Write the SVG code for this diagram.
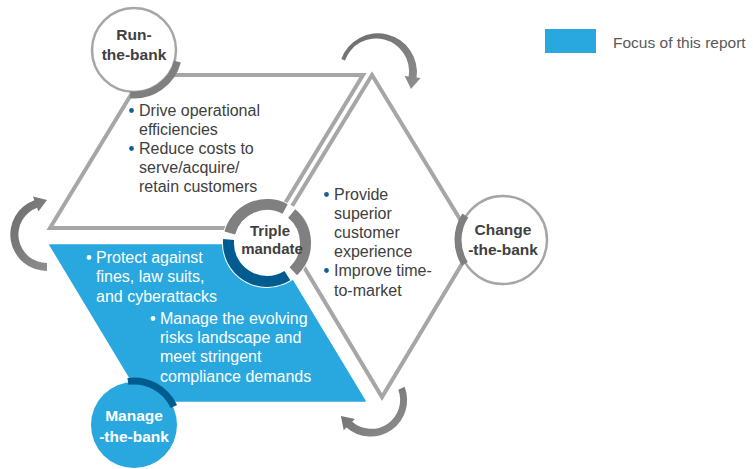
<svg xmlns="http://www.w3.org/2000/svg" width="753" height="469" viewBox="0 0 753 469">
<defs>
<style>
.ln{fill:none;stroke:#a6a6a6;stroke-width:4;stroke-linejoin:miter}
.thin{fill:#fff;stroke:#a6a6a6;stroke-width:2.5}
.thick{fill:none;stroke:#7f7f7f;stroke-width:7}
.t{font-family:"Liberation Sans",Arial,sans-serif;font-size:16px;fill:#404040}
.w{fill:#fff}
.h{font-family:"Liberation Sans",Arial,sans-serif;font-weight:bold;font-size:15.5px;fill:#404040;text-anchor:middle}
.dot{fill:#1b5e8e}
.wdot{fill:#fff}
.arr{fill:url(#ag)}
</style>
<linearGradient id="ag" x1="0" y1="0" x2="1" y2="1">
<stop offset="0" stop-color="#6b6b6b"/>
<stop offset="1" stop-color="#8f8f8f"/>
</linearGradient>
</defs>
<rect width="753" height="469" fill="#fff"/>

<g id="legend">
<rect x="545" y="29" width="51" height="24" fill="#29a8e0"/>
<text x="613" y="48" class="t" style="fill:#595959;font-size:15.5px">Focus of this report</text>
</g>

<g id="shapes">
<polygon id="manage-area" points="50,245 271,245 365,401 144,401" fill="#29a8e0" stroke="#29a8e0" stroke-width="1.5" stroke-linejoin="round"/>
<polygon id="run-area" class="ln" points="50,228 143,75 363,75 270,228"/>
<polygon id="change-area" class="ln" points="372,75 474.5,243 382,397 279.6,226.4"/>
</g>

<g id="connectors">
<path class="arr" d="M341.3,59 A39,39 0 0 1 416.6,77.6 L420.6,78.1 L411,88.9 L404.7,75.9 L408.7,76.5 A33,33 0 0 0 345,60.4 Z"/>
<path class="arr" d="M47,271 A36.5,36.5 0 0 1 34.35,200.2 L33,196.5 L47,199.9 L38.45,211.5 L37.1,207.75 A28.5,28.5 0 0 0 47,263 Z"/>
<path class="arr" d="M404.6,386.8 A36.5,36.5 0 0 1 346.5,427.5 L343.7,430.3 L340.9,416.1 L355,419 L352.2,421.8 A29,29 0 0 0 398.3,389.7 Z"/>
</g>

<g id="run-the-bank">
<circle class="thin" cx="134" cy="50" r="42"/>
<path class="thick" d="M177.5,61.6 A45,45 0 0 1 130.1,94.8"/>
<text class="h" x="134" y="40">Run-</text>
<text class="h" x="134" y="60">the-bank</text>
</g>

<g id="change-the-bank">
<circle class="thin" cx="503" cy="240" r="44"/>
<path class="thick" d="M464.8,263.8 A45,45 0 0 1 465.3,215.5"/>
<text class="h" x="503" y="235">Change</text>
<text class="h" x="503" y="255">-the-bank</text>
</g>

<g id="triple-mandate">
<circle cx="267" cy="243" r="45" fill="#fff"/>
<path d="M229.8,233 A38.5,38.5 0 0 1 285.1,209" fill="none" stroke="#808080" stroke-width="11"/>
<path d="M291.7,213.5 A38.5,38.5 0 0 1 293.3,271.2" fill="none" stroke="#808080" stroke-width="11"/>
<path d="M287.4,275.6 A38.5,38.5 0 0 1 228.6,239.6" fill="none" stroke="#005c8f" stroke-width="11"/>
<text class="h" x="270" y="236" style="font-size:15px">Triple</text>
<text class="h" x="272" y="254" style="font-size:15px">mandate</text>
</g>

<g id="manage-the-bank">
<circle cx="134" cy="425" r="43" fill="#29a8e0"/>
<path d="M127.9,381.4 A44,44 0 0 1 173.9,406.4" fill="none" stroke="#005c8f" stroke-width="7"/>
<text class="h" x="134" y="421" style="fill:#fff">Manage</text>
<text class="h" x="134" y="442" style="fill:#fff">-the-bank</text>
</g>

<g id="run-text">
<circle class="dot" cx="131.5" cy="110.5" r="2.4"/>
<text class="t" x="139" y="116">Drive operational</text>
<text class="t" x="139" y="135">efficiencies</text>
<circle class="dot" cx="131.5" cy="148.5" r="2.4"/>
<text class="t" x="139" y="154">Reduce costs to</text>
<text class="t" x="139" y="173">serve/acquire/</text>
<text class="t" x="139" y="192">retain customers</text>
</g>

<g id="change-text">
<circle class="dot" cx="326.5" cy="194.5" r="2.4"/>
<text class="t" x="334" y="200">Provide</text>
<text class="t" x="334" y="219">superior</text>
<text class="t" x="334" y="238">customer</text>
<text class="t" x="334" y="257">experience</text>
<circle class="dot" cx="326.5" cy="270.5" r="2.4"/>
<text class="t" x="334" y="276">Improve time-</text>
<text class="t" x="334" y="296">to-market</text>
</g>

<g id="manage-text">
<circle class="wdot" cx="89" cy="257.5" r="2.4"/>
<text class="t w" x="96" y="263">Protect against</text>
<text class="t w" x="96" y="282">fines, law suits,</text>
<text class="t w" x="96" y="302">and cyberattacks</text>
<circle class="wdot" cx="153" cy="318.5" r="2.4"/>
<text class="t w" x="160" y="324">Manage the evolving</text>
<text class="t w" x="160" y="343">risks landscape and</text>
<text class="t w" x="160" y="362">meet stringent</text>
<text class="t w" x="160" y="382">compliance demands</text>
</g>
</svg>
